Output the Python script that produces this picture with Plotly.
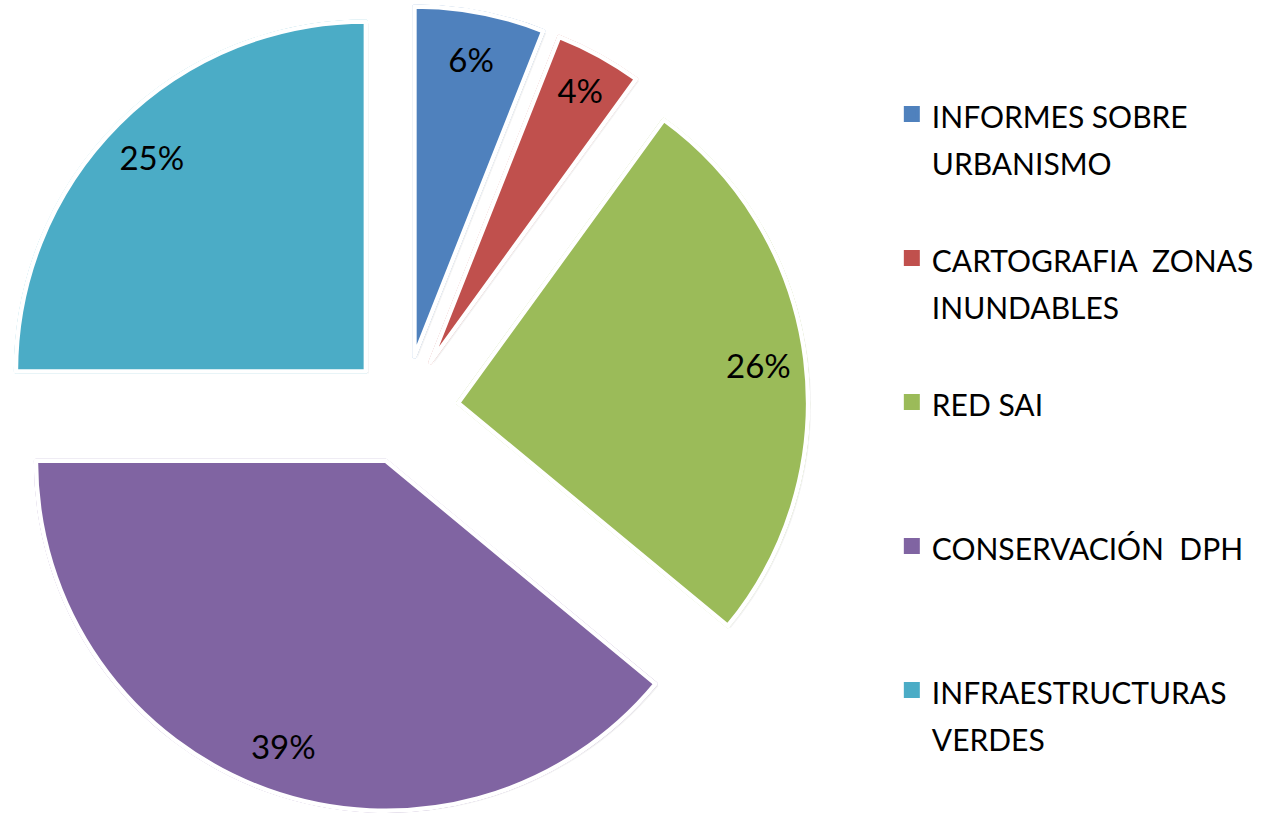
import plotly.graph_objects as go

# Share of activity by programme (percent)
categories = [
    "INFORMES SOBRE<br>URBANISMO",
    "CARTOGRAFIA  ZONAS<br>INUNDABLES",
    "RED SAI",
    "CONSERVACIÓN  DPH",
    "INFRAESTRUCTURAS<br>VERDES",
]
values = [6, 4, 26, 39, 25]
colors = ["#4F81BD", "#C0504D", "#9BBB59", "#8064A2", "#4BACC6"]
pull = 0.155

W, H = 1265, 816
FONT = "Lato"
LEGEND_TEXT_PX = 30


# legend entries: text drawn at 30px inside a taller line box; every entry except the
# last is padded to three lines so the entries sit evenly down the right side
def legend_entry(label, last):
    lines = [f'<span style="font-size:{LEGEND_TEXT_PX}px">{s}</span>' for s in label.split("<br>")]
    if not last:
        lines += ["&nbsp;"] * (3 - len(lines))
    return "<br>".join(lines)


legend_labels = [legend_entry(c, i == len(categories) - 1) for i, c in enumerate(categories)]

radius = 350
box = 2 * radius * (1 + pull)  # pie box side in px
dom_x = [0.0, box / W]
dom_y = [2 / H, (2 + box) / H]

common = dict(values=values, sort=False, direction="clockwise", rotation=0, pull=pull)

fig = go.Figure()

# soft drop shadow: offset translucent copies of the pie underneath
for dx, dy, a in [(3, 2, 0.05), (2, 1, 0.07)]:
    fig.add_trace(go.Pie(
        labels=legend_labels, **common,
        marker=dict(colors=[f"rgba(0,0,0,{a})"] * len(values), line=dict(width=0)),
        domain=dict(x=[dom_x[0] + dx / W, dom_x[1] + dx / W],
                    y=[dom_y[0] - dy / H, dom_y[1] - dy / H]),
        textinfo="none", hoverinfo="skip", showlegend=False,
    ))

# the slices (outlined in their own colour, which also enlarges the legend swatches)
fig.add_trace(go.Pie(
    labels=legend_labels, **common,
    marker=dict(colors=colors, line=dict(color=colors, width=4)),
    domain=dict(x=dom_x, y=dom_y),
    textinfo="none", hovertemplate="%{value}%<extra></extra>",
    showlegend=True,
))

# white slice borders
fig.add_trace(go.Pie(
    labels=legend_labels, **common,
    marker=dict(colors=["rgba(0,0,0,0)"] * len(values), line=dict(color="white", width=4.5)),
    domain=dict(x=dom_x, y=dom_y),
    textinfo="none", hoverinfo="skip", showlegend=False,
))

# percentage labels: a transparent ring over the outer part of each slice,
# so each label is centred near the rim
fig.add_trace(go.Pie(
    labels=legend_labels, **common, hole=0.73,
    marker=dict(colors=["rgba(0,0,0,0)"] * len(values), line=dict(width=0)),
    domain=dict(x=dom_x, y=dom_y),
    texttemplate="%{value}%", textposition="inside",
    insidetextorientation="horizontal",
    textfont=dict(family=FONT, size=33, color="black"),
    hoverinfo="skip", showlegend=False,
))

fig.update_layout(
    width=W, height=H,
    margin=dict(l=0, r=0, t=0, b=0),
    paper_bgcolor="white", plot_bgcolor="white",
    font=dict(family=FONT, size=27, color="black"),
    legend=dict(
        x=0.705, y=0.897, xanchor="left", yanchor="top",
        valign="top", traceorder="normal",
        font=dict(family=FONT, size=36.15, color="black"),
        bgcolor="rgba(0,0,0,0)",
    ),
)

fig.write_html("out.html")
